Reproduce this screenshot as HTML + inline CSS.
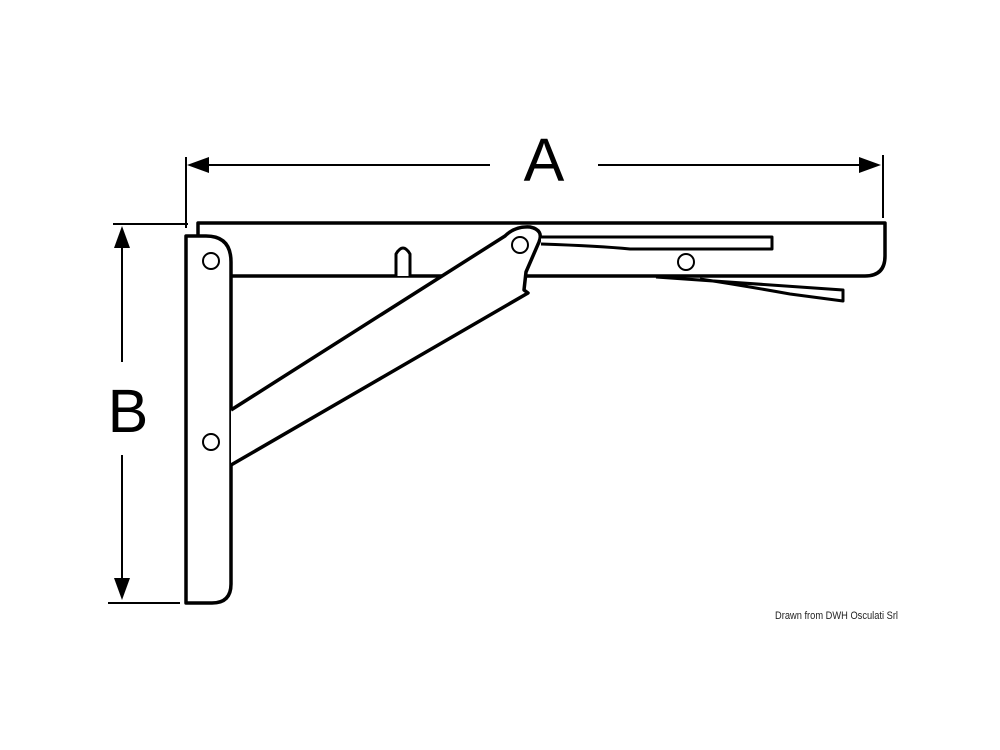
<!DOCTYPE html>
<html><head><meta charset="utf-8"><style>
html,body{margin:0;padding:0;background:#fff;width:1000px;height:750px;overflow:hidden}
svg{display:block}
</style></head><body>
<svg width="1000" height="750" viewBox="0 0 1000 750" xmlns="http://www.w3.org/2000/svg">
<g fill="none" stroke="#000" stroke-linejoin="round">
<line x1="186" y1="157" x2="186" y2="228" stroke-width="2"/>
<line x1="883" y1="155" x2="883" y2="218" stroke-width="2"/>
<line x1="200" y1="165" x2="490" y2="165" stroke-width="2"/>
<line x1="598" y1="165" x2="870" y2="165" stroke-width="2"/>
<line x1="113" y1="224" x2="188" y2="224" stroke-width="2"/>
<line x1="108" y1="603" x2="180" y2="603" stroke-width="2"/>
<line x1="122" y1="240" x2="122" y2="362" stroke-width="2"/>
<line x1="122" y1="455" x2="122" y2="585" stroke-width="2"/>
<path d="M198 236 L198 223 L885 223 L885 256 Q885 276 865 276 L231 276" stroke-width="3.5"/>
<path d="M396 276 L396 254 Q403 242 410 254 L410 276" stroke-width="3" fill="#fff"/>
<path d="M186 236 L206 236 Q231 236 231 262 L231 584 Q231 603 212 603 L186 603 Z" stroke-width="3.5" fill="#fff"/>
<path d="M231 410 L505 236 Q515 226 530 227 Q544 230 539 242 L526 272 L524 290 L528 293 L231 465" stroke-width="3.5" fill="#fff"/>
<path d="M541 237 L772 237 L772 249 L630 249 Q600 246 541 244" stroke-width="3" fill="#fff"/>
<path d="M656 277 L843 290 L843 301 L790 294 Q740 285 700 279" stroke-width="3" fill="#fff"/>
<circle cx="211" cy="261" r="8" stroke-width="2"/>
<circle cx="520" cy="245" r="8" stroke-width="2"/>
<circle cx="686" cy="262" r="8" stroke-width="2"/>
<circle cx="211" cy="442" r="8" stroke-width="2"/>
</g>
<polygon points="187,165 209,157 209,173" fill="#000"/>
<polygon points="881,165 859,157 859,173" fill="#000"/>
<polygon points="122,226 114,248 130,248" fill="#000"/>
<polygon points="122,600 114,578 130,578" fill="#000"/>
<text x="544" y="181" font-family="Liberation Sans, sans-serif" font-size="61" text-anchor="middle">A</text>
<text x="128" y="432" font-family="Liberation Sans, sans-serif" font-size="61" text-anchor="middle">B</text>
<text x="775" y="619" font-family="Liberation Sans, sans-serif" font-size="11" fill="#222" textLength="123" lengthAdjust="spacingAndGlyphs">Drawn from DWH Osculati Srl</text>
</svg>
</body></html>
